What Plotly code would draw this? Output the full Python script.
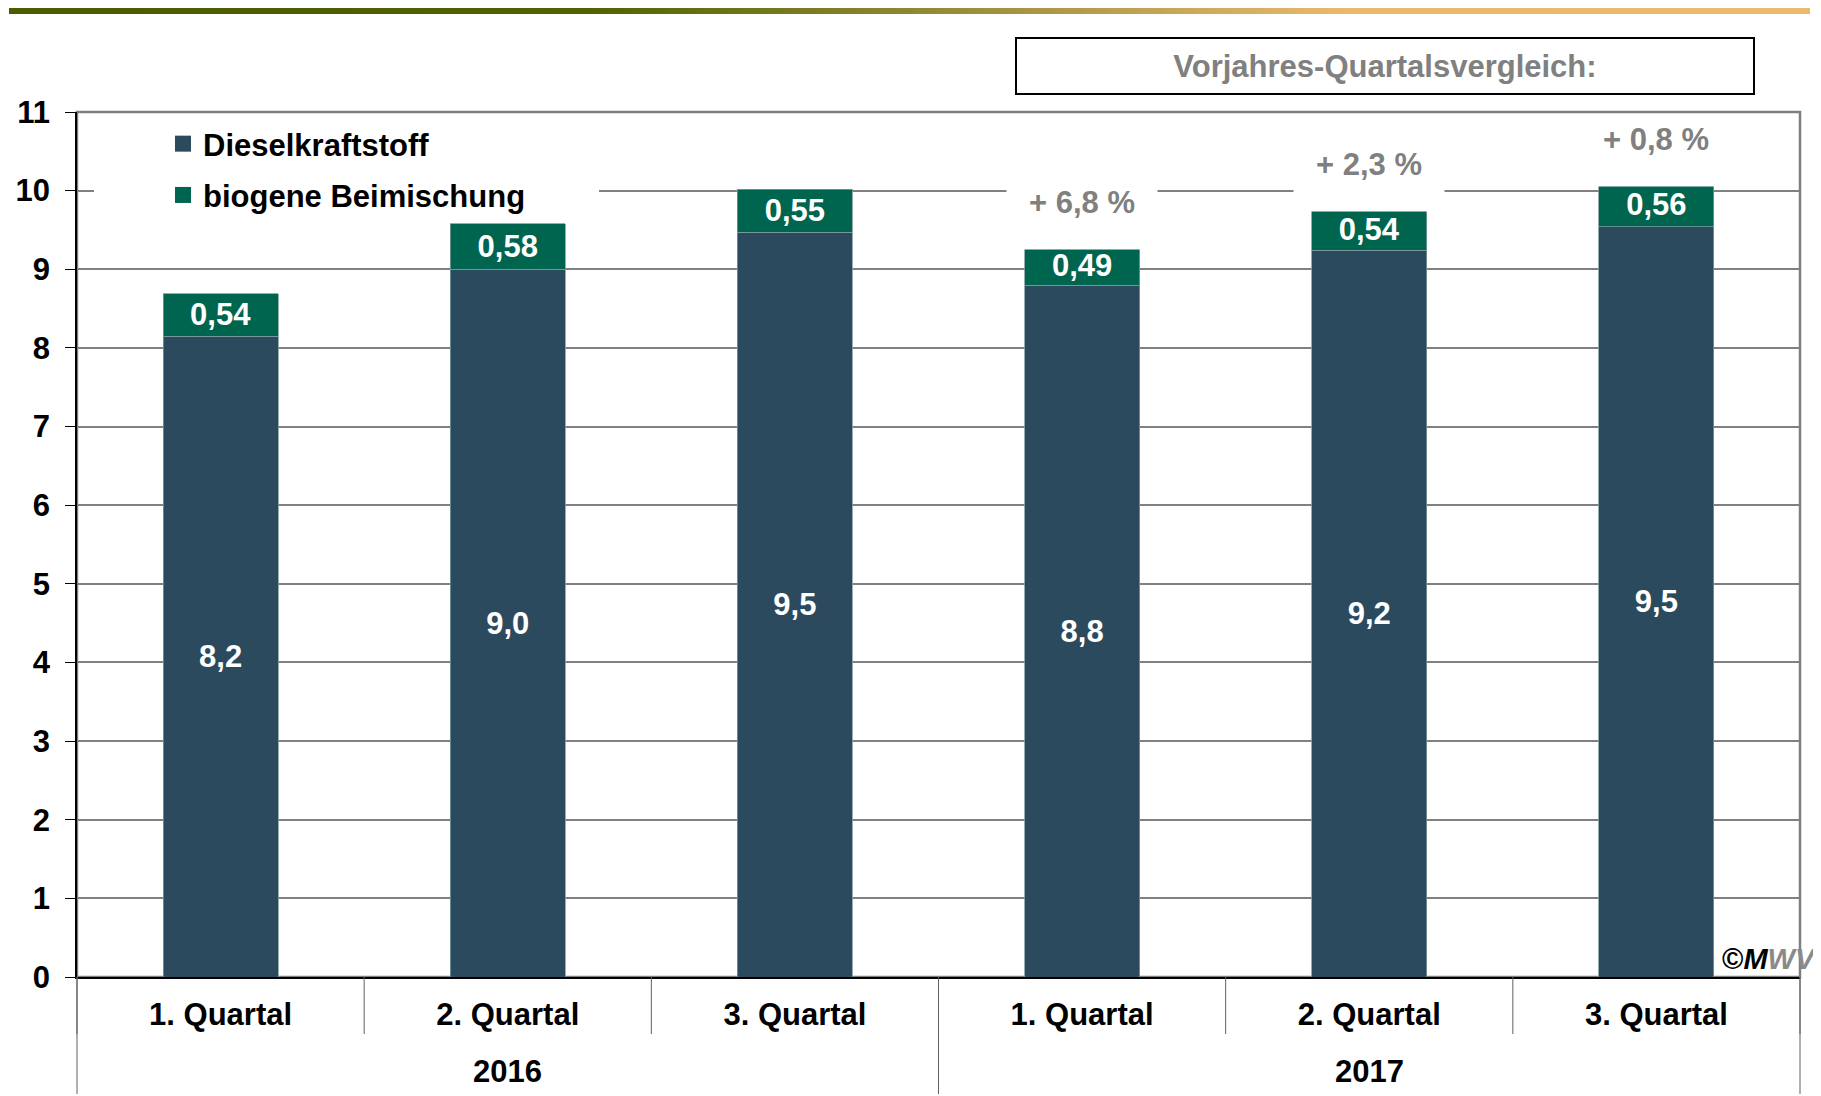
import base64
import plotly.graph_objects as go

years = ["2016", "2016", "2016", "2017", "2017", "2017"]
quarters = ["1. Quartal", "2. Quartal", "3. Quartal", "1. Quartal", "2. Quartal", "3. Quartal"]
diesel = [8.15, 9.0, 9.47, 8.8, 9.24, 9.54]
biogen = [0.54, 0.58, 0.55, 0.49, 0.54, 0.56]
yoy_labels = ["", "", "", "+ 6,8 %", "+ 2,3 %", "+ 0,8 %"]
y_ticks = list(range(0, 12))

FONT = "Liberation Sans, Arial, sans-serif"
C_DIESEL = "#2c4a5e"
C_BIO = "#00654f"
GREY = "#808080"
TICKGREY = "#606060"

# the page puts the figure 8px in from the top-left corner
OFF = 8
W, H = 1821 - OFF, 1096 - OFF
ML, MR, MT, MB = 69, 21, 104, 119
pw, ph = W - ML - MR, H - MT - MB


def px(sx):   # screen x -> paper x
    return (sx - OFF - ML) / pw


def py(sy):   # screen y -> paper y
    return (H - MB - (sy - OFF)) / ph


idx = list(range(len(quarters)))
n = len(idx)

fig = go.Figure()
fig.add_trace(go.Bar(
    x=idx, y=diesel, name="Dieselkraftstoff", showlegend=False,
    marker=dict(color=C_DIESEL, line=dict(color="#7c9a9c", width=0.8)),
    width=0.4, text=[f"{v:.1f}".replace(".", ",") for v in diesel],
    textposition="inside", insidetextanchor="middle", constraintext="none",
    textfont=dict(family=FONT, size=31, color="white", weight="bold"),
    hoverinfo="skip"))
fig.add_trace(go.Bar(
    x=idx, y=biogen, name="biogene Beimischung", showlegend=False,
    marker=dict(color=C_BIO, line=dict(color="#7c9a9c", width=0.8)),
    width=0.4, text=[f"{v:.2f}".replace(".", ",") for v in biogen],
    textposition="inside", insidetextanchor="middle", constraintext="none",
    textfont=dict(family=FONT, size=31, color="white", weight="bold"),
    hoverinfo="skip"))

# legend entries with larger square swatches
pad = "\u00a0" * 8
for name, col, grp in [("Dieselkraftstoff", C_DIESEL, "a"), ("biogene Beimischung" + pad, C_BIO, "b")]:
    fig.add_trace(go.Scatter(x=[None], y=[None], mode="markers", name=name, legendgroup=grp,
                             marker=dict(symbol="square", size=16, color=col)))

# year-on-year labels above the 2017 bars
for i, lab in enumerate(yoy_labels):
    if not lab:
        continue
    fig.add_annotation(
        x=(i + 0.5) / n, xref="paper", y=diesel[i] + biogen[i], yref="y",
        text=lab, showarrow=False, xanchor="center", yanchor="top", yshift=62,
        width=150, height=64, valign="top", bgcolor="white", borderpad=0,
        font=dict(family=FONT, size=31, color=GREY, weight="bold"))

# category separators below the axis
for k in range(n + 1):
    fig.add_shape(type="line", xref="paper", yref="paper", x0=k / n, x1=k / n,
                  y0=0, y1=-57 / ph, line=dict(color=TICKGREY, width=1))
for k in range(n + 1):
    if k == 0 or k == n or years[k] != years[k - 1]:
        fig.add_shape(type="line", xref="paper", yref="paper", x0=k / n, x1=k / n,
                      y0=0, y1=py(1094), line=dict(color=TICKGREY, width=1))

# year labels
for yr in dict.fromkeys(years):
    pos = [i for i, y in enumerate(years) if y == yr]
    fig.add_annotation(x=(sum(pos) / len(pos) + 0.5) / n, xref="paper", y=py(1071), yref="paper",
                       text=yr, showarrow=False, xanchor="center", yanchor="middle",
                       font=dict(family=FONT, size=31, color="black", weight="bold"))

# box title
fig.add_annotation(
    x=px(1385), y=py(66), xref="paper", yref="paper",
    text="Vorjahres-Quartalsvergleich:", showarrow=False,
    xanchor="center", yanchor="middle", width=736, height=54,
    bordercolor="black", borderwidth=2, borderpad=0, bgcolor="white",
    font=dict(family=FONT, size=31, color=GREY, weight="bold"))

# watermark, runs off the right edge like the original
fig.add_annotation(
    x=(W - ML - 2) / pw, y=0, xref="paper", yref="y", xanchor="right", yanchor="bottom",
    text="©<i>M</i><i><span style='color:#8a8a8a'>WV</span></i>", showarrow=False,
    font=dict(family=FONT, size=29, color="black", weight="bold"))

# black line at 10 and grey frame
fig.add_shape(type="line", xref="paper", yref="y", x0=0, x1=1, y0=10, y1=10,
              line=dict(color="black", width=1.5), layer="between")
fig.add_shape(type="rect", xref="paper", yref="paper", x0=0, x1=1, y0=0, y1=1,
              line=dict(color=GREY, width=2.5), layer="between")

svg = ("<svg xmlns='http://www.w3.org/2000/svg' width='1800' height='10' preserveAspectRatio='none'>"
       "<defs><linearGradient id='g' x1='0' x2='1' y1='0' y2='0'>"
       "<stop offset='0' stop-color='#4a5c00'/><stop offset='0.32' stop-color='#4f6200'/>"
       "<stop offset='0.5' stop-color='#8e8731'/><stop offset='0.66' stop-color='#cea85b'/>"
       "<stop offset='0.74' stop-color='#e8b96a'/><stop offset='1' stop-color='#e9bb6b'/>"
       "</linearGradient></defs><rect width='1800' height='10' fill='url(#g)'/></svg>")
src = "data:image/svg+xml;base64," + base64.b64encode(svg.encode()).decode()
fig.add_layout_image(dict(source=src, xref="paper", yref="paper",
                          x=px(9), y=py(5), sizex=(1810 - 9) / pw, sizey=9 / ph,
                          xanchor="left", yanchor="top", sizing="stretch", layer="above"))

fig.update_layout(
    width=W, height=H, autosize=False,
    margin=dict(l=ML, r=MR, t=MT, b=MB),
    barmode="stack", plot_bgcolor="white", paper_bgcolor="white",
    font=dict(family=FONT, size=31, color="black"),
    legend=dict(x=px(94), y=py(117), xanchor="left", yanchor="top",
                bgcolor="white", traceorder="grouped", tracegroupgap=8,
                indentation=69,
                font=dict(family=FONT, size=31, color="black", weight="bold")),
)
fig.update_yaxes(range=[0, 11], tickvals=y_ticks, showgrid=True, gridcolor=GREY, gridwidth=1.5,
                 showline=True, linecolor="black", linewidth=1.5, ticks="outside", ticklen=10,
                 tickcolor="black", ticklabelstandoff=9, zeroline=False, automargin=False,
                 tickfont=dict(family=FONT, size=31, color="black", weight="bold"))
fig.update_xaxes(range=[-0.5, n - 0.5], tickvals=idx, ticktext=quarters, ticks="",
                 showgrid=False, zeroline=False, showline=True, linecolor="black", linewidth=2,
                 ticklabelstandoff=9, automargin=False,
                 tickfont=dict(family=FONT, size=31, color="black", weight="bold"))

fig.write_html("out.html")
